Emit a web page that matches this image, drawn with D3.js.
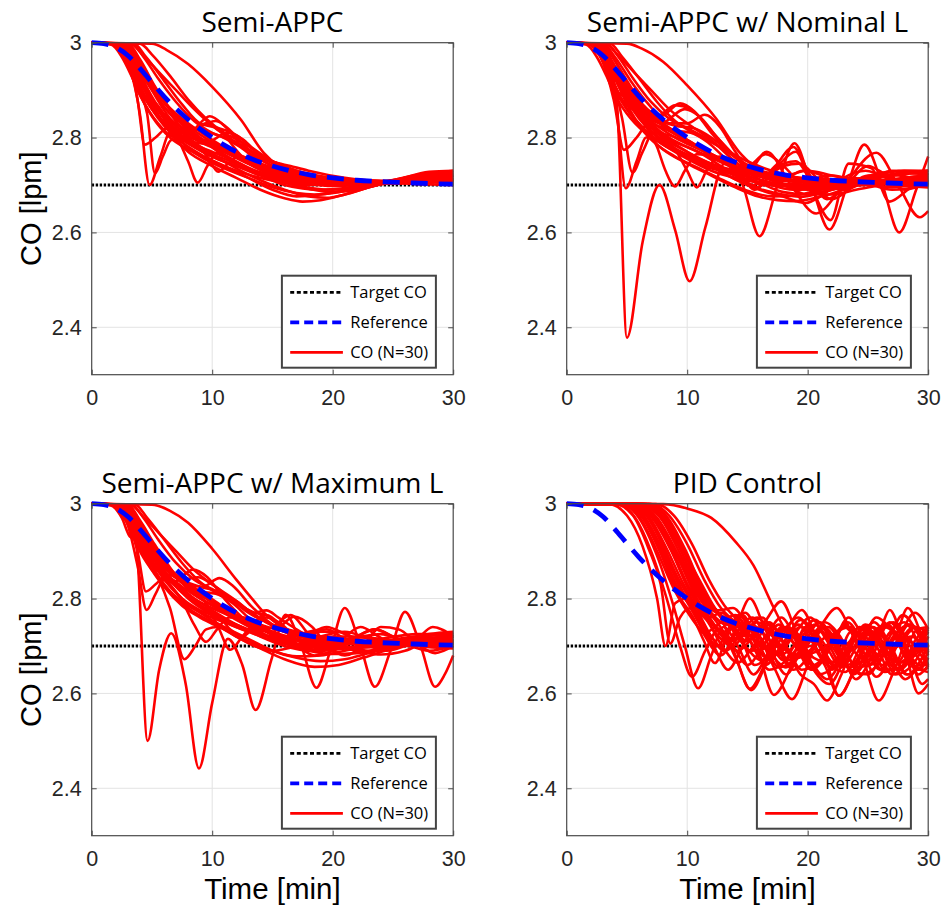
<!DOCTYPE html>
<html>
<head>
<meta charset="utf-8">
<script src="https://cdn.jsdelivr.net/npm/d3@7"></script>
<style>
  body { margin: 0; background: #fff; }
</style>
</head>
<body>
<div id="chart"></div>
<script>
const timeTicks = [0, 10, 20, 30];
const coTicks = [2.4, 2.6, 2.8, 3];
const coTickLabels = ["2.4", "2.6", "2.8", "3"];
const targetCO = 2.7;
const panelTitles = ["Semi-APPC", "Semi-APPC w/ Nominal L", "Semi-APPC w/ Maximum L", "PID Control"];
const legendLabels = ["Target CO", "Reference", "CO (N=30)"];

const refTimes = [0, 1, 2, 3, 4, 5, 6, 7, 8, 9, 10, 11, 12, 13, 14, 15, 16, 17, 18, 19, 20, 22, 24, 26, 28, 30];
const refValues = [3, 2.998, 2.99, 2.973, 2.946, 2.916, 2.887, 2.861, 2.838, 2.818, 2.80, 2.784, 2.77, 2.758, 2.748, 2.74, 2.733, 2.727, 2.722, 2.718, 2.715, 2.71, 2.707, 2.705, 2.703, 2.702];

// every run is a flat list: time, CO, time, CO, ...
const semiAppcRuns = [
  [0,3, 5,2.998, 6.2,2.985, 8,2.955, 10,2.907, 12.4,2.837, 14.3,2.767, 15.5,2.74, 17,2.725, 20,2.713, 24,2.708, 30,2.71],
  [0,3, 2,2.998, 3,2.97, 4,2.85, 4.8,2.70, 5.7,2.76, 6.5,2.81, 7.5,2.80, 9,2.78, 11,2.76, 13,2.735, 16,2.70, 19,2.69, 23,2.70, 27,2.71, 30,2.72],
  [0,3, 2,2.997, 3,2.96, 3.8,2.88, 4.4,2.785, 5.3,2.80, 6.3,2.82, 7.5,2.81, 9,2.79, 11,2.77, 13,2.745, 16,2.72, 20,2.705, 25,2.705, 30,2.715],
  [0,3, 2.2,2.998, 3.2,2.96, 4,2.9, 4.6,2.85, 5.25,2.725, 5.9,2.76, 6.6,2.795, 8,2.80, 10,2.785, 12,2.76, 14,2.735, 17,2.70, 20,2.69, 24,2.705, 30,2.72],
  [0,3, 2.5,2.995, 3.5,2.96, 4.5,2.9, 6,2.84, 7.3,2.79, 8,2.75, 8.8,2.705, 9.6,2.74, 10.5,2.77, 12,2.765, 14,2.745, 17,2.715, 20,2.70, 25,2.705, 30,2.72],
  [0,3, 2.3,2.997, 3.3,2.96, 4.5,2.9, 6.5,2.83, 8.5,2.79, 9.6,2.76, 10.5,2.728, 11.3,2.745, 12.2,2.76, 13.5,2.75, 16,2.72, 20,2.70, 25,2.707, 30,2.72],
  [0,3, 2,2.998, 3,2.97, 4,2.92, 5,2.87, 6.5,2.82, 8,2.81, 9.8,2.845, 11,2.825, 12.5,2.78, 14,2.745, 16,2.72, 20,2.705, 25,2.706, 30,2.712],
  [0,3, 2.5,2.998, 3.5,2.96, 5,2.9, 6.5,2.85, 8,2.815, 10.3,2.835, 11.5,2.815, 13,2.775, 15,2.74, 18,2.712, 22,2.705, 30,2.71],
  [0,3, 2.8,2.998, 3.8,2.96, 5,2.91, 6.5,2.86, 8.2,2.81, 9.5,2.79, 11.3,2.81, 12.6,2.795, 14,2.76, 15.5,2.745, 18,2.72, 22,2.708, 30,2.712],
  [0,3, 1.8,2.996, 2.8,2.96, 4,2.89, 5.5,2.83, 7,2.80, 8.3,2.81, 9.5,2.83, 10.8,2.81, 12.5,2.76, 14.5,2.735, 17,2.71, 21,2.70, 26,2.708, 30,2.72],
  [0,3, 2.5,2.997, 3.5,2.955, 5,2.87, 6.5,2.81, 8,2.77, 10,2.74, 12,2.715, 14,2.69, 16,2.672, 17.5,2.665, 19,2.668, 21,2.68, 23,2.695, 25,2.71, 28,2.725, 30,2.728],
  [0,3, 2.8,2.997, 3.8,2.96, 5,2.9, 6.5,2.84, 8,2.8, 10,2.765, 12,2.735, 14,2.71, 16,2.69, 18,2.676, 19.5,2.673, 21,2.68, 23,2.695, 25.5,2.712, 28,2.728, 30,2.73],
  [0,3, 2.2,2.998, 3.2,2.965, 4.5,2.9, 6,2.84, 7.5,2.79, 9,2.76, 11,2.735, 13,2.715, 15,2.695, 17,2.683, 18.5,2.68, 20.5,2.685, 23,2.7, 26,2.715, 30,2.725],
  [0,3, 3,2.998, 4,2.965, 5.2,2.91, 6.8,2.85, 8.5,2.805, 10,2.78, 12,2.75, 14,2.725, 16,2.705, 18,2.692, 20,2.685, 22,2.69, 24.5,2.705, 27,2.72, 30,2.73],
  [0,3, 2,2.998, 3,2.975, 4,2.94, 5,2.905, 6,2.875, 7,2.85, 8,2.83, 10,2.795, 12,2.765, 14,2.745, 16,2.73, 18,2.72, 21,2.712, 25,2.708, 30,2.705],
  [0,3, 1.8,2.997, 2.8,2.97, 3.8,2.92, 5,2.86, 6,2.83, 7,2.805, 8.5,2.78, 10,2.76, 12,2.74, 14,2.72, 16,2.71, 19,2.70, 23,2.703, 27,2.71, 30,2.715],
  [0,3, 3.2,2.998, 4.2,2.975, 5.5,2.94, 7,2.9, 8.5,2.86, 10,2.825, 12,2.79, 14,2.76, 15.5,2.745, 17,2.73, 20,2.715, 24,2.708, 30,2.708],
  [0,3, 3.5,2.998, 4.5,2.97, 6,2.92, 7.5,2.87, 9,2.83, 10.5,2.82, 12,2.805, 13.5,2.775, 15,2.75, 17,2.73, 20,2.712, 25,2.706, 30,2.712],
  [0,3, 1.6,2.996, 2.5,2.97, 3.3,2.93, 4,2.89, 5,2.845, 6.5,2.80, 8,2.775, 10,2.75, 12,2.73, 14,2.715, 16,2.705, 18,2.7, 22,2.7, 26,2.706, 30,2.718],
  [0,3, 2,2.997, 3,2.96, 3.8,2.9, 4.6,2.885, 5.4,2.87, 6.5,2.83, 8,2.79, 10,2.76, 12,2.74, 14,2.725, 17,2.71, 20,2.703, 25,2.705, 30,2.712],
  [0,3, 2.4,2.997, 3.4,2.965, 4.4,2.93, 5.5,2.89, 7,2.845, 8.5,2.815, 10,2.79, 12,2.76, 14,2.74, 17,2.72, 21,2.708, 25,2.706, 30,2.71],
  [0,3, 2.6,2.998, 3.6,2.97, 4.8,2.915, 6,2.865, 7.5,2.83, 9,2.8, 10.5,2.77, 12,2.745, 14,2.725, 16,2.712, 18,2.705, 22,2.703, 26,2.707, 30,2.716],
  [0,3, 2.2,2.997, 3.2,2.96, 4.3,2.91, 5.5,2.86, 7,2.815, 8.5,2.79, 10,2.785, 11.5,2.775, 13,2.75, 15,2.725, 17.5,2.705, 20,2.7, 23,2.703, 26,2.712, 30,2.722],
  [0,3, 4,2.998, 5,2.975, 6.5,2.93, 8,2.88, 9.5,2.84, 11,2.81, 12.5,2.79, 14,2.765, 15,2.75, 16.5,2.74, 18,2.73, 21,2.715, 25,2.707, 30,2.71],
  [0,3, 3,2.996, 4,2.96, 5,2.915, 6.2,2.87, 7.5,2.835, 9,2.815, 10.5,2.805, 12,2.785, 13.5,2.76, 15,2.74, 17,2.722, 20,2.71, 24,2.705, 30,2.70],
  [0,3, 2,2.996, 3,2.965, 4,2.91, 5,2.86, 6,2.825, 7.5,2.79, 9,2.765, 11,2.74, 13,2.715, 15,2.69, 17,2.676, 19,2.68, 22,2.695, 25,2.71, 28,2.722, 30,2.725],
  [0,3, 2.6,2.997, 3.6,2.96, 4.6,2.905, 5.8,2.855, 7.2,2.82, 8.7,2.80, 10,2.79, 11.5,2.77, 13,2.745, 15,2.72, 17.5,2.706, 20,2.698, 24,2.702, 27,2.712, 30,2.725],
  [0,3, 2.1,2.996, 3.1,2.955, 4,2.9, 5,2.86, 6.5,2.82, 8,2.79, 9.5,2.77, 11,2.755, 13,2.735, 15,2.72, 17,2.71, 20,2.702, 25,2.703, 30,2.71],
  [0,3, 3.3,2.998, 4.3,2.97, 5.5,2.925, 7,2.875, 8.5,2.835, 10,2.81, 11.5,2.795, 13,2.775, 14.5,2.752, 16,2.735, 18,2.72, 21,2.71, 25,2.706, 30,2.715],
  [0,3, 2.4,2.996, 3.4,2.95, 4.3,2.89, 5.2,2.865, 6.2,2.845, 7.5,2.82, 9,2.795, 11,2.77, 13,2.745, 15,2.728, 18,2.712, 22,2.705, 26,2.708, 30,2.72]
];

const nominalLRuns = [
  [0,3, 2.6,2.998, 3.5,2.96, 4.2,2.86, 5,2.378, 6.3,2.58, 7.7,2.70, 9,2.605, 10.2,2.497, 11.5,2.61, 13.1,2.745, 14.6,2.70, 16,2.592, 17.5,2.70, 18.9,2.788, 20.3,2.70, 21.8,2.606, 23.3,2.70, 24.7,2.785, 26.2,2.70, 27.6,2.60, 29,2.69, 30,2.76],
  [0,3, 2.4,2.997, 3.4,2.96, 4.5,2.9, 6,2.84, 7.5,2.80, 9,2.775, 11,2.755, 13,2.735, 14.8,2.72, 16.6,2.77, 18.6,2.70, 20.7,2.64, 23,2.70, 25.7,2.768, 27.5,2.70, 29.3,2.632, 30,2.645],
  [0,3, 2.2,2.997, 3.2,2.965, 4.3,2.91, 5.5,2.86, 7,2.815, 8.5,2.785, 10,2.76, 12,2.735, 14,2.725, 15.8,2.695, 17.5,2.74, 19,2.77, 20.4,2.69, 21.9,2.626, 23.4,2.745, 25.3,2.735, 26.8,2.665, 28.3,2.69, 30,2.725],
  [0,3, 2.2,2.997, 3.2,2.96, 4.1,2.87, 4.9,2.693, 5.8,2.75, 6.6,2.80, 8,2.79, 9.5,2.77, 11.2,2.75, 13,2.725, 15,2.70, 17,2.685, 19.5,2.675, 22,2.69, 25,2.705, 30,2.72],
  [0,3, 2.5,2.997, 3.5,2.95, 4.6,2.84, 5.46,2.726, 6.3,2.77, 7.2,2.81, 8.5,2.805, 10,2.79, 12,2.765, 14,2.74, 16,2.72, 18,2.71, 20,2.705, 22.5,2.71, 25,2.702, 27,2.69, 30,2.70],
  [0,3, 2,2.997, 3,2.96, 3.9,2.88, 4.75,2.774, 5.8,2.80, 6.8,2.83, 8,2.82, 9.5,2.80, 11,2.78, 13,2.75, 15,2.72, 17,2.705, 20,2.698, 23,2.702, 26,2.71, 30,2.714],
  [0,3, 2.6,2.997, 3.6,2.96, 4.8,2.9, 6.2,2.84, 7.5,2.78, 8.2,2.73, 9,2.697, 9.8,2.73, 10.8,2.765, 12.3,2.76, 14,2.73, 16,2.705, 18,2.685, 20,2.68, 22,2.69, 24,2.71, 26,2.725, 28,2.73, 30,2.728],
  [0,3, 2.4,2.997, 3.4,2.96, 4.5,2.905, 6,2.85, 7.5,2.81, 9,2.775, 10,2.73, 10.8,2.695, 11.7,2.735, 12.7,2.76, 14,2.74, 15.6,2.69, 17.3,2.735, 19,2.75, 20.5,2.70, 22,2.67, 24,2.70, 26,2.72, 28,2.705, 30,2.70],
  [0,3, 2.8,2.998, 3.8,2.97, 5,2.92, 6.3,2.87, 7.8,2.845, 9.4,2.872, 10.6,2.855, 12,2.81, 13.5,2.77, 15,2.735, 17,2.71, 19,2.70, 21,2.705, 23,2.715, 26,2.71, 30,2.705],
  [0,3, 2.5,2.998, 3.5,2.965, 4.8,2.91, 6.2,2.86, 7.8,2.83, 9.8,2.86, 11,2.845, 12.5,2.8, 14,2.76, 15.5,2.72, 17,2.70, 19,2.69, 21,2.695, 23.5,2.71, 27,2.722, 30,2.725],
  [0,3, 3,2.998, 4,2.97, 5.3,2.92, 6.8,2.87, 8.5,2.83, 10,2.83, 11.45,2.848, 12.8,2.82, 14,2.77, 15,2.74, 16.5,2.765, 18,2.74, 19.5,2.70, 21,2.685, 23,2.70, 25.5,2.72, 28,2.73, 30,2.73],
  [0,3, 5,2.998, 6.2,2.988, 8,2.96, 10,2.91, 12.4,2.84, 14.3,2.77, 15.5,2.74, 16.8,2.715, 18,2.70, 20,2.69, 22,2.695, 25,2.707, 30,2.712],
  [0,3, 2.3,2.997, 3.3,2.96, 4.5,2.9, 6,2.845, 7.5,2.81, 9,2.79, 10.5,2.775, 12.2,2.75, 14,2.72, 15.5,2.70, 17.3,2.74, 18.8,2.78, 20.2,2.72, 21.6,2.67, 23.2,2.70, 25,2.74, 26.6,2.72, 28.5,2.70, 30,2.71],
  [0,3, 2.5,2.997, 3.5,2.955, 5,2.87, 6.5,2.81, 8,2.775, 10,2.745, 12,2.72, 14,2.695, 16,2.675, 17.5,2.668, 19,2.666, 21,2.675, 23,2.69, 25,2.71, 27.5,2.725, 30,2.73],
  [0,3, 2.8,2.997, 3.8,2.96, 5,2.9, 6.5,2.845, 8,2.805, 10,2.77, 12,2.74, 14,2.712, 16,2.69, 18,2.675, 19.8,2.662, 21.3,2.68, 23,2.715, 24.8,2.73, 26.5,2.715, 28,2.69, 30,2.705],
  [0,3, 2,2.998, 3,2.975, 4,2.94, 5,2.905, 6,2.875, 7,2.85, 8,2.83, 10,2.795, 12,2.765, 14,2.745, 16,2.73, 18,2.72, 21,2.712, 25,2.708, 30,2.706],
  [0,3, 1.8,2.997, 2.8,2.97, 3.8,2.92, 5,2.86, 6,2.83, 7,2.805, 8.5,2.78, 10,2.76, 12,2.74, 14,2.72, 16,2.705, 18,2.70, 20,2.71, 22,2.72, 24.5,2.705, 27,2.695, 30,2.71],
  [0,3, 3.2,2.998, 4.2,2.975, 5.5,2.94, 7,2.9, 8.5,2.86, 10,2.83, 12,2.795, 13.5,2.76, 15,2.73, 16.5,2.72, 18,2.74, 19.3,2.745, 21,2.71, 23,2.69, 25,2.71, 27,2.73, 30,2.72],
  [0,3, 1.6,2.996, 2.5,2.97, 3.3,2.93, 4,2.89, 5,2.85, 6.5,2.81, 8,2.785, 10,2.755, 12,2.73, 14,2.715, 16,2.705, 18,2.70, 22,2.70, 26,2.706, 30,2.718],
  [0,3, 2,2.997, 3,2.96, 3.8,2.905, 4.6,2.89, 5.4,2.875, 6.5,2.84, 8,2.80, 10,2.77, 12,2.745, 14,2.73, 16,2.718, 19,2.708, 23,2.705, 27,2.71, 30,2.716],
  [0,3, 2.6,2.998, 3.6,2.965, 4.8,2.905, 6,2.86, 7.5,2.845, 9,2.868, 10.3,2.86, 11.8,2.82, 13.2,2.78, 14.6,2.745, 16,2.725, 18,2.72, 20,2.73, 22,2.72, 25,2.705, 30,2.71],
  [0,3, 2.3,2.997, 3.3,2.962, 4.4,2.915, 5.6,2.87, 7,2.83, 8.5,2.80, 10,2.78, 11.8,2.76, 13.5,2.74, 15,2.725, 17,2.712, 20,2.705, 24,2.703, 30,2.708],
  [0,3, 3.6,2.998, 4.6,2.97, 6,2.925, 7.5,2.875, 9,2.835, 10.5,2.81, 12,2.79, 13.5,2.77, 15,2.75, 17,2.73, 20,2.712, 25,2.707, 30,2.71],
  [0,3, 2.4,2.996, 3.4,2.95, 4.3,2.89, 5.2,2.865, 6.2,2.85, 7.5,2.825, 9,2.8, 11,2.775, 13,2.75, 15,2.73, 17,2.72, 19,2.715, 21,2.69, 23,2.695, 25,2.72, 27.5,2.72, 30,2.70],
  [0,3, 2.1,2.996, 3.1,2.955, 4,2.9, 5,2.86, 6.5,2.815, 8,2.785, 9.5,2.765, 11,2.75, 13,2.73, 15,2.712, 17,2.70, 20,2.695, 25,2.70, 30,2.712],
  [0,3, 3,2.996, 4,2.962, 5,2.915, 6.2,2.87, 7.5,2.84, 9,2.825, 10.5,2.82, 12,2.80, 13.5,2.77, 15,2.74, 16.7,2.72, 18.5,2.71, 21,2.713, 24,2.708, 27,2.70, 30,2.695],
  [0,3, 2,2.996, 3,2.965, 4,2.91, 5,2.86, 6,2.825, 7.5,2.785, 9,2.76, 11,2.735, 13,2.71, 15,2.688, 17,2.676, 19,2.678, 21,2.69, 24,2.705, 27,2.72, 30,2.73],
  [0,3, 2.7,2.997, 3.7,2.96, 4.8,2.91, 6,2.87, 7.5,2.835, 9,2.815, 10.3,2.81, 11.7,2.79, 13.2,2.755, 14.8,2.72, 16.3,2.70, 18,2.71, 19.6,2.73, 21.2,2.72, 23,2.70, 25,2.705, 30,2.715],
  [0,3, 3.3,2.998, 4.3,2.97, 5.5,2.925, 7,2.875, 8.5,2.84, 10,2.82, 11.5,2.80, 13,2.775, 14.5,2.75, 16,2.73, 18,2.715, 21,2.705, 25,2.704, 30,2.705],
  [0,3, 2.4,2.997, 3.4,2.965, 4.4,2.93, 5.5,2.89, 7,2.845, 8.5,2.815, 10,2.795, 12,2.765, 14,2.74, 16,2.72, 18,2.70, 20,2.68, 22,2.68, 24,2.69, 26,2.70, 28,2.715, 30,2.72]
];

const maximumLRuns = [
  [0,3, 2.2,2.997, 3,2.97, 3.7,2.918, 4.64,2.50, 5.6,2.65, 6.6,2.727, 7.8,2.62, 8.9,2.442, 10,2.58, 11.3,2.715, 12.5,2.66, 13.6,2.565, 14.9,2.67, 16.1,2.766, 17.4,2.70, 18.65,2.612, 19.8,2.69, 21,2.78, 22.3,2.70, 23.5,2.614, 24.8,2.69, 26,2.772, 27.3,2.70, 28.5,2.614, 29.3,2.64, 30,2.68],
  [0,3, 2,2.997, 3,2.955, 3.8,2.87, 4.56,2.776, 5.3,2.81, 6,2.84, 7,2.83, 8.5,2.80, 10,2.775, 12,2.745, 14,2.72, 16,2.70, 18,2.69, 20,2.695, 23,2.70, 26,2.71, 30,2.72],
  [0,3, 2.2,2.997, 3.1,2.955, 3.8,2.90, 4.5,2.815, 5.3,2.83, 6.3,2.85, 7.5,2.84, 9,2.815, 10.5,2.79, 12,2.76, 14,2.735, 16.5,2.72, 18,2.73, 19.5,2.735, 21,2.715, 23,2.70, 25,2.71, 27,2.72, 30,2.71],
  [0,3, 2.4,2.997, 3.3,2.96, 4.3,2.9, 5.5,2.845, 6.5,2.78, 7.7,2.672, 8.6,2.70, 9.5,2.735, 10.5,2.74, 12,2.72, 13.5,2.70, 15,2.69, 17,2.70, 19,2.72, 21,2.73, 23,2.715, 25,2.70, 27,2.705, 30,2.72],
  [0,3, 2.6,2.997, 3.6,2.96, 4.8,2.9, 6.2,2.84, 7.5,2.795, 8.5,2.745, 9.5,2.709, 10.4,2.735, 11.4,2.76, 12.6,2.76, 14,2.745, 15.5,2.72, 17,2.705, 19,2.70, 21.5,2.705, 24,2.715, 27,2.725, 30,2.725],
  [0,3, 2.8,2.998, 3.8,2.965, 5,2.91, 6.5,2.86, 8,2.82, 9.5,2.79, 10.5,2.74, 11.5,2.692, 12.5,2.72, 13.5,2.75, 14.5,2.765, 15.8,2.74, 17,2.705, 18.5,2.68, 20,2.69, 22,2.72, 23.5,2.735, 25,2.72, 26.5,2.70, 28,2.69, 30,2.70],
  [0,3, 2.2,2.997, 3.2,2.96, 4.3,2.91, 5.5,2.86, 6.8,2.835, 8.4,2.861, 9.6,2.845, 11,2.80, 12.5,2.76, 14,2.73, 15.5,2.71, 17,2.70, 19,2.69, 21,2.695, 24,2.71, 27,2.72, 30,2.725],
  [0,3, 2.6,2.998, 3.6,2.965, 4.8,2.915, 6.2,2.865, 7.8,2.83, 9.2,2.825, 10.6,2.843, 11.8,2.825, 13.2,2.785, 14.5,2.755, 16,2.73, 17.5,2.72, 19,2.73, 20.5,2.73, 22,2.715, 24,2.70, 26,2.70, 28,2.71, 30,2.72],
  [0,3, 5,2.998, 6.5,2.985, 8,2.96, 10,2.905, 12,2.84, 13.3,2.80, 14.5,2.765, 15.5,2.745, 17,2.725, 19,2.715, 22,2.71, 26,2.708, 30,2.71],
  [0,3, 2.4,2.997, 3.4,2.96, 4.5,2.9, 6,2.84, 7.5,2.80, 9,2.775, 10.5,2.76, 12,2.745, 13.5,2.73, 15,2.74, 16.5,2.765, 18,2.725, 19.3,2.695, 20.8,2.715, 22.3,2.74, 23.8,2.72, 25.2,2.70, 26.8,2.71, 28.3,2.74, 30,2.72],
  [0,3, 2.8,2.998, 3.8,2.965, 5,2.915, 6.4,2.865, 8,2.825, 9.5,2.80, 11,2.775, 12.5,2.76, 14,2.745, 15,2.73, 16.8,2.762, 18.3,2.74, 19.6,2.70, 21,2.68, 22.5,2.70, 24,2.74, 25.5,2.735, 27,2.705, 28.5,2.685, 30,2.70],
  [0,3, 2.5,2.997, 3.5,2.955, 5,2.87, 6.5,2.815, 8,2.78, 10,2.75, 12,2.72, 14,2.695, 16,2.672, 18.5,2.656, 20.5,2.66, 22.5,2.675, 25,2.695, 27.5,2.712, 30,2.725],
  [0,3, 2.2,2.998, 3.2,2.965, 4.5,2.9, 6,2.845, 7.5,2.80, 9,2.77, 11,2.74, 13,2.715, 15,2.69, 17,2.675, 19,2.668, 21,2.672, 23,2.685, 25.5,2.70, 28,2.712, 30,2.72],
  [0,3, 3,2.998, 4,2.965, 5.2,2.915, 6.8,2.855, 8.5,2.81, 10,2.785, 12,2.755, 14,2.728, 16,2.705, 18,2.69, 20,2.683, 22,2.685, 24.5,2.698, 27,2.71, 30,2.72],
  [0,3, 2,2.998, 3,2.975, 4,2.94, 5,2.905, 6,2.875, 7,2.85, 8,2.83, 10,2.795, 12,2.765, 14,2.745, 16,2.73, 18,2.72, 21,2.712, 25,2.708, 30,2.706],
  [0,3, 1.8,2.997, 2.8,2.965, 3.6,2.93, 4.3,2.925, 5,2.9, 6,2.86, 7,2.83, 8.5,2.795, 10,2.77, 12,2.745, 14,2.725, 16,2.71, 18,2.70, 20,2.705, 22.5,2.72, 24,2.725, 26,2.71, 28,2.70, 30,2.705],
  [0,3, 3.2,2.998, 4.2,2.975, 5.5,2.94, 7,2.9, 8.5,2.86, 10,2.83, 12,2.795, 13.5,2.765, 15,2.745, 17,2.73, 20,2.715, 24,2.708, 30,2.708],
  [0,3, 1.6,2.996, 2.5,2.97, 3.2,2.93, 3.8,2.925, 4.5,2.905, 5.5,2.87, 6.8,2.83, 8.2,2.80, 10,2.77, 12,2.745, 14,2.725, 16,2.71, 18,2.70, 21,2.697, 25,2.70, 30,2.71],
  [0,3, 2,2.997, 3,2.96, 3.8,2.93, 4.6,2.915, 5.4,2.88, 6.5,2.84, 8,2.80, 10,2.765, 12,2.74, 14,2.725, 16,2.715, 19,2.708, 23,2.705, 27,2.71, 30,2.716],
  [0,3, 2.6,2.998, 3.6,2.965, 4.8,2.91, 6,2.865, 7.5,2.84, 8.8,2.845, 10,2.83, 11.5,2.80, 13,2.77, 14.5,2.75, 16,2.735, 18,2.725, 20,2.715, 23,2.71, 26,2.705, 30,2.70],
  [0,3, 2.3,2.997, 3.3,2.962, 4.4,2.915, 5.6,2.87, 7,2.83, 8.5,2.80, 10,2.78, 11.8,2.76, 13.5,2.74, 15,2.725, 17,2.712, 20,2.705, 24,2.703, 30,2.708],
  [0,3, 3.6,2.998, 4.6,2.97, 6,2.925, 7.5,2.875, 9,2.835, 10.5,2.81, 12,2.79, 13.5,2.77, 14.5,2.765, 15.5,2.745, 17,2.725, 18.5,2.715, 20,2.72, 22,2.72, 25,2.71, 30,2.71],
  [0,3, 2.4,2.996, 3.4,2.95, 4.3,2.895, 5.2,2.865, 6.2,2.85, 7.5,2.825, 9,2.80, 11,2.775, 13,2.75, 15,2.73, 17,2.715, 19,2.71, 21,2.70, 23,2.69, 25,2.70, 27.5,2.715, 30,2.72],
  [0,3, 2.1,2.996, 3.1,2.955, 4,2.9, 5,2.86, 6.5,2.815, 8,2.785, 9.5,2.765, 11,2.75, 13,2.73, 15,2.712, 17,2.70, 20,2.695, 25,2.70, 30,2.712],
  [0,3, 3,2.996, 4,2.962, 5,2.915, 6.2,2.87, 7.5,2.84, 9,2.825, 10.5,2.815, 12,2.795, 13.5,2.77, 14.5,2.775, 15.5,2.76, 17,2.735, 18.5,2.715, 20,2.71, 22,2.718, 24,2.715, 27,2.70, 30,2.695],
  [0,3, 2,2.996, 3,2.965, 4,2.91, 5,2.86, 6,2.825, 7.5,2.785, 9,2.76, 11,2.735, 13,2.71, 15,2.69, 17,2.678, 19,2.68, 21,2.69, 24,2.705, 27,2.718, 30,2.728],
  [0,3, 2.7,2.997, 3.7,2.96, 4.8,2.91, 6,2.87, 7.5,2.835, 9,2.815, 10.3,2.81, 11.7,2.79, 13.2,2.755, 14.8,2.725, 16.3,2.71, 18,2.725, 19.5,2.74, 21,2.725, 23,2.70, 24.5,2.69, 26,2.70, 28,2.725, 30,2.73],
  [0,3, 3.3,2.998, 4.3,2.97, 5.5,2.925, 7,2.875, 8.5,2.84, 10,2.82, 11.5,2.80, 13,2.775, 14.5,2.75, 16,2.73, 18,2.715, 21,2.705, 25,2.704, 30,2.705],
  [0,3, 2.4,2.997, 3.4,2.965, 4.4,2.93, 5.5,2.89, 7,2.845, 8.5,2.815, 10,2.795, 12,2.765, 14,2.74, 16,2.72, 18,2.705, 20,2.70, 22,2.69, 24,2.682, 26,2.69, 28,2.71, 30,2.715],
  [0,3, 2.5,2.997, 3.5,2.96, 4.7,2.905, 6,2.855, 7.5,2.815, 9,2.785, 10.5,2.765, 11.5,2.735, 12.5,2.72, 13.5,2.74, 14.5,2.76, 15.8,2.745, 17,2.715, 18.8,2.69, 20.5,2.70, 22,2.72, 23.5,2.735, 25,2.72, 26.5,2.70, 28,2.70, 30,2.715]
];

const pidRuns = [
  [0,3, 3.5,2.999, 5,2.975, 6.3,2.91, 7.5,2.80, 8.2,2.70, 9,2.79, 10,2.80, 11.2,2.74, 12.5,2.70, 13.8,2.745, 15.2,2.71, 16.5,2.66, 17.8,2.70, 19.2,2.745, 20.6,2.70, 22,2.655, 23.4,2.70, 24.8,2.74, 26.2,2.70, 27.6,2.65, 29,2.69, 30,2.73],
  [0,3, 4,2.999, 5.5,2.975, 6.8,2.905, 7.8,2.83, 8.6,2.705, 9.4,2.76, 10.3,2.78, 11.5,2.72, 12.8,2.68, 14.1,2.73, 15.4,2.76, 16.8,2.70, 18.2,2.64, 19.6,2.70, 21,2.75, 22.4,2.70, 23.8,2.645, 25.2,2.70, 26.6,2.745, 28,2.70, 29.3,2.66, 30,2.675],
  [0,3, 4.5,2.999, 6,2.97, 7.5,2.89, 8.8,2.79, 9.8,2.70, 10.9,2.611, 12,2.68, 13,2.74, 14.2,2.70, 15.5,2.64, 16.8,2.69, 18,2.74, 19.3,2.70, 20.6,2.655, 22,2.70, 23.3,2.75, 24.7,2.70, 26,2.65, 27.4,2.70, 28.8,2.74, 30,2.70],
  [0,3, 4.2,2.999, 5.7,2.97, 7,2.90, 8.3,2.80, 9.4,2.70, 10.4,2.635, 11.5,2.69, 12.6,2.735, 13.8,2.70, 15,2.66, 16.3,2.70, 17.6,2.745, 19,2.70, 20.3,2.65, 21.6,2.69, 23,2.74, 24.4,2.70, 25.7,2.635, 27,2.68, 28.4,2.745, 29.6,2.72, 30,2.70],
  [0,3, 5.5,2.999, 7,2.975, 8.5,2.92, 10,2.85, 11.5,2.79, 12.8,2.76, 14,2.68, 15.3,2.607, 16.5,2.66, 17.8,2.74, 19.2,2.72, 20.5,2.65, 21.8,2.62, 23.2,2.68, 24.6,2.735, 26,2.70, 27.3,2.64, 28.7,2.66, 30,2.72],
  [0,3, 5,2.999, 6.5,2.97, 8,2.90, 9.5,2.82, 11,2.76, 12.2,2.70, 13.4,2.65, 14.6,2.70, 15.8,2.75, 17.1,2.72, 18.4,2.66, 19.8,2.695, 21.1,2.74, 22.5,2.70, 23.8,2.64, 25.2,2.685, 26.5,2.74, 27.9,2.71, 29.2,2.64, 30,2.66],
  [0,3, 4.8,2.999, 6.3,2.97, 7.8,2.895, 9.2,2.81, 10.5,2.76, 11.4,2.71, 12.3,2.664, 13.3,2.72, 14.3,2.765, 15.5,2.73, 16.8,2.67, 18.1,2.71, 19.4,2.755, 20.8,2.72, 22.1,2.665, 23.5,2.70, 24.8,2.745, 26.2,2.72, 27.6,2.665, 29,2.70, 30,2.735],
  [0,3, 8,2.999, 10,2.99, 12,2.97, 14,2.92, 15.5,2.87, 17,2.79, 18,2.74, 19,2.70, 20.2,2.685, 21.5,2.70, 23,2.74, 24.5,2.72, 26,2.68, 27.5,2.70, 29,2.74, 30,2.725],
  [0,3, 6,2.999, 7.5,2.97, 9,2.905, 10.5,2.83, 12,2.77, 13.3,2.745, 14.6,2.765, 15.8,2.70, 17.2,2.597, 18.5,2.65, 19.8,2.74, 21.2,2.70, 22.6,2.595, 24,2.66, 25.4,2.74, 26.8,2.70, 28.2,2.64, 29.5,2.66, 30,2.69],
  [0,3, 6.5,2.999, 8,2.97, 9.5,2.91, 11,2.84, 12.3,2.78, 13.6,2.74, 15,2.72, 16.4,2.75, 17.8,2.794, 19.2,2.72, 20.6,2.66, 22,2.70, 23.4,2.76, 24.8,2.71, 26.2,2.66, 27.6,2.72, 28.9,2.77, 30,2.735],
  [0,3, 6.2,2.999, 7.8,2.97, 9.3,2.91, 10.8,2.83, 12.2,2.78, 13.6,2.75, 14.8,2.77, 16,2.72, 17.3,2.65, 18.7,2.588, 20,2.66, 21.3,2.74, 22.6,2.70, 24,2.63, 25.4,2.68, 26.8,2.75, 28.2,2.70, 29.5,2.62, 30,2.63],
  [0,3, 5.8,2.999, 7.3,2.97, 8.8,2.90, 10.2,2.82, 11.6,2.77, 12.9,2.72, 14.2,2.69, 15.5,2.72, 16.8,2.75, 18.1,2.70, 19.4,2.64, 20.5,2.62, 21.6,2.585, 22.8,2.64, 24.1,2.72, 25.5,2.73, 26.8,2.68, 28.1,2.63, 29.4,2.67, 30,2.70],
  [0,3, 5.3,2.999, 6.8,2.97, 8.2,2.90, 9.5,2.82, 10.8,2.765, 12,2.72, 13.2,2.69, 14.5,2.73, 15.8,2.76, 17.1,2.72, 18.4,2.67, 19.7,2.70, 21,2.74, 22.4,2.78, 23.8,2.72, 25.2,2.66, 26.6,2.71, 27.9,2.765, 29.3,2.72, 30,2.69],
  [0,3, 6.8,2.999, 8.3,2.97, 9.8,2.90, 11.2,2.82, 12.6,2.77, 13.9,2.74, 15.2,2.69, 16.5,2.72, 17.8,2.76, 19.1,2.71, 20.4,2.65, 21.7,2.69, 23.1,2.745, 24.5,2.68, 25.9,2.585, 27.2,2.65, 28.5,2.72, 29.6,2.70, 30,2.68],
  [0,3, 5.6,2.999, 7.1,2.97, 8.6,2.905, 10,2.83, 11.3,2.775, 12.6,2.73, 13.9,2.71, 15.2,2.745, 16.6,2.72, 18,2.67, 19.3,2.70, 20.6,2.745, 22,2.70, 23.4,2.655, 24.8,2.70, 26.1,2.74, 26.8,2.776, 28,2.70, 29.2,2.60, 30,2.62],
  [0,3, 6.4,2.999, 7.9,2.97, 9.4,2.905, 10.8,2.825, 12.1,2.78, 13.4,2.745, 14.8,2.70, 16.1,2.67, 17.4,2.70, 18.5,2.745, 19.5,2.776, 20.7,2.72, 22,2.65, 23.3,2.69, 24.7,2.74, 26,2.70, 27.4,2.65, 28.7,2.69, 30,2.74],
  [0,3, 5.2,2.999, 6.7,2.975, 8.1,2.905, 9.3,2.83, 10.5,2.77, 11.6,2.73, 12.8,2.75, 14,2.765, 15.3,2.72, 16.6,2.675, 18,2.70, 19.4,2.74, 20.8,2.71, 22.2,2.66, 23.6,2.69, 25,2.735, 26.4,2.70, 27.3,2.72, 28.3,2.78, 29.5,2.72, 30,2.69],
  [0,3, 5,2.999, 6.4,2.975, 7.7,2.91, 8.8,2.84, 9.8,2.80, 10.9,2.77, 12,2.72, 13.1,2.69, 14.2,2.75, 15.2,2.80, 16.4,2.74, 17.6,2.68, 18.9,2.70, 20.2,2.735, 21.5,2.70, 22.8,2.655, 24.1,2.70, 25.5,2.75, 26.9,2.70, 28.3,2.64, 29.6,2.68, 30,2.70],
  [0,3, 5.9,2.999, 7.4,2.97, 8.9,2.905, 10.3,2.83, 11.7,2.775, 13,2.73, 14.1,2.67, 15.2,2.61, 16.4,2.66, 17.6,2.735, 18.9,2.72, 20.2,2.67, 21.6,2.63, 23,2.68, 24.3,2.74, 25.7,2.70, 27,2.64, 28.4,2.67, 29.7,2.73, 30,2.735],
  [0,3, 6.6,2.999, 8.1,2.97, 9.6,2.905, 11,2.825, 12.4,2.775, 13.7,2.74, 15,2.71, 16.3,2.74, 17.6,2.72, 18.9,2.68, 20.2,2.70, 21.4,2.66, 22.6,2.595, 23.9,2.65, 25.2,2.72, 26.5,2.745, 27.9,2.69, 29.2,2.65, 30,2.675],
  [0,3, 5.4,2.999, 6.9,2.97, 8.3,2.905, 9.7,2.83, 11,2.775, 12.4,2.74, 13.7,2.715, 15,2.73, 16.4,2.74, 17.8,2.70, 19.2,2.675, 20.6,2.70, 22,2.725, 23.4,2.70, 24.8,2.67, 26.2,2.69, 27.6,2.72, 29,2.70, 30,2.685],
  [0,3, 6,2.999, 7.6,2.965, 9.1,2.895, 10.5,2.815, 11.8,2.76, 13,2.73, 14.3,2.75, 15.6,2.73, 16.9,2.685, 18.2,2.655, 19.6,2.69, 21,2.73, 22.3,2.70, 23.6,2.65, 25,2.64, 26.3,2.685, 27.6,2.73, 28.9,2.70, 30,2.655],
  [0,3, 4.6,2.999, 6.1,2.97, 7.5,2.90, 8.9,2.82, 10.2,2.765, 11.4,2.725, 12.6,2.70, 13.8,2.72, 15,2.745, 16.3,2.71, 17.6,2.655, 19,2.675, 20.3,2.72, 21.7,2.74, 23,2.695, 24.4,2.64, 25.8,2.66, 27.1,2.72, 28.5,2.745, 29.8,2.70, 30,2.695],
  [0,3, 7,2.999, 8.5,2.975, 10,2.915, 11.4,2.84, 12.8,2.78, 14,2.75, 15.3,2.72, 16.6,2.695, 17.9,2.73, 19.2,2.76, 20.5,2.72, 21.8,2.665, 23.1,2.645, 24.4,2.70, 25.7,2.76, 27,2.73, 28.4,2.665, 29.7,2.65, 30,2.655],
  [0,3, 5.7,2.999, 7.2,2.97, 8.7,2.90, 10.1,2.82, 11.4,2.765, 12.6,2.72, 13.8,2.70, 15,2.735, 16.2,2.76, 17.5,2.71, 18.8,2.65, 20.1,2.68, 21.4,2.75, 22.7,2.72, 24,2.655, 25.4,2.665, 26.7,2.725, 28,2.75, 29.3,2.70, 30,2.66],
  [0,3, 6.3,2.999, 7.8,2.97, 9.2,2.905, 10.6,2.83, 11.9,2.78, 13.1,2.76, 14.4,2.72, 15.6,2.66, 16.9,2.685, 18.2,2.74, 19.5,2.715, 20.9,2.64, 22.3,2.66, 23.6,2.73, 25,2.715, 26.4,2.65, 27.7,2.655, 29,2.715, 30,2.74],
  [0,3, 4.9,2.999, 6.4,2.97, 7.8,2.905, 9.1,2.83, 10.4,2.78, 11.6,2.755, 12.9,2.70, 14.2,2.665, 15.5,2.70, 16.8,2.745, 18.2,2.70, 19.5,2.65, 20.9,2.665, 22.2,2.725, 23.6,2.74, 25,2.69, 26.4,2.645, 27.7,2.67, 29.1,2.735, 30,2.74],
  [0,3, 7.4,2.999, 8.9,2.975, 10.4,2.915, 11.8,2.84, 13.1,2.785, 14.3,2.75, 15.5,2.70, 16.8,2.65, 18,2.665, 19.3,2.72, 20.6,2.755, 22,2.71, 23.4,2.655, 24.8,2.675, 26.2,2.74, 27.6,2.72, 29,2.655, 30,2.645],
  [0,3, 5.1,2.999, 6.6,2.975, 8,2.91, 9.3,2.84, 10.5,2.79, 11.7,2.76, 12.9,2.77, 14,2.73, 15.2,2.69, 16.5,2.695, 17.8,2.735, 19.1,2.72, 20.5,2.675, 21.9,2.665, 23.3,2.705, 24.7,2.735, 26.1,2.70, 27.5,2.665, 28.9,2.68, 30,2.72],
  [0,3, 6.9,2.999, 8.4,2.97, 9.9,2.90, 11.3,2.82, 12.6,2.775, 13.8,2.78, 15,2.745, 16.3,2.70, 17.6,2.685, 18.9,2.725, 20.2,2.76, 21.5,2.715, 22.9,2.66, 24.3,2.665, 25.7,2.72, 27.1,2.75, 28.5,2.70, 29.8,2.66, 30,2.66]
];

const width = 945, height = 907;
const plotW = 361.5, plotH = 332;

const panels = [
  { title: panelTitles[0], runs: semiAppcRuns, left: 91.7, top: 42.7, yLabel: true, xLabel: false },
  { title: panelTitles[1], runs: nominalLRuns, left: 566.7, top: 42.7, yLabel: false, xLabel: false },
  { title: panelTitles[2], runs: maximumLRuns, left: 91.7, top: 503.7, yLabel: true, xLabel: true },
  { title: panelTitles[3], runs: pidRuns, left: 566.7, top: 503.7, yLabel: false, xLabel: true }
];

const svg = d3.select("#chart")
  .append("svg")
  .attr("width", width)
  .attr("height", height)
  .style("font-family", "'Liberation Sans', Arial, sans-serif");

function toPoints(run) {
  const pts = [];
  for (let i = 0; i < run.length; i += 2) pts.push([run[i], run[i + 1]]);
  return pts;
}

panels.forEach(p => {
  const g = svg.append("g");
  const x = d3.scaleLinear().domain([0, 30]).range([p.left, p.left + plotW]);
  const y = d3.scaleLinear().domain([2.3, 3]).range([p.top + plotH, p.top]);
  const right = p.left + plotW, bottom = p.top + plotH;

  // grid
  g.selectAll(".vgrid").data(timeTicks.slice(1, -1)).join("line")
    .attr("x1", d => x(d)).attr("x2", d => x(d))
    .attr("y1", p.top).attr("y2", bottom)
    .attr("stroke", "#e3e3e3").attr("stroke-width", 1);
  g.selectAll(".hgrid").data(coTicks.slice(0, -1)).join("line")
    .attr("x1", p.left).attr("x2", right)
    .attr("y1", d => y(d)).attr("y2", d => y(d))
    .attr("stroke", "#e3e3e3").attr("stroke-width", 1);

  // target
  g.append("line")
    .attr("x1", x(0)).attr("x2", x(30))
    .attr("y1", y(targetCO)).attr("y2", y(targetCO))
    .attr("stroke", "#000").attr("stroke-width", 3)
    .attr("stroke-dasharray", "2.4,1.6");

  const line = d3.line()
    .x(d => x(d[0]))
    .y(d => y(d[1]))
    .curve(d3.curveMonotoneX);

  // runs
  g.selectAll(".run").data(p.runs.map(toPoints)).join("path")
    .attr("d", line)
    .attr("fill", "none")
    .attr("stroke", "#ff0000")
    .attr("stroke-width", 2.6)
    .attr("stroke-linejoin", "round");

  // reference
  g.append("path")
    .attr("d", line(refTimes.map((t, i) => [t, refValues[i]])))
    .attr("fill", "none")
    .attr("stroke", "#0000ff")
    .attr("stroke-width", 4.8)
    .attr("stroke-dasharray", "17,11");

  // box
  g.append("rect")
    .attr("x", p.left).attr("y", p.top)
    .attr("width", plotW).attr("height", plotH)
    .attr("fill", "none").attr("stroke", "#4a4a4a").attr("stroke-width", 1.2);

  // axes
  const xAxis = g.append("g").attr("transform", `translate(0,${bottom})`)
    .call(d3.axisBottom(x).tickValues(timeTicks).tickSize(-5).tickSizeOuter(0).tickPadding(15.5));
  const yAxis = g.append("g").attr("transform", `translate(${p.left},0)`)
    .call(d3.axisLeft(y).tickValues(coTicks).tickFormat((d, i) => coTickLabels[i])
      .tickSize(-5).tickSizeOuter(0).tickPadding(10));
  g.append("g").attr("transform", `translate(0,${p.top})`)
    .call(d3.axisTop(x).tickValues(timeTicks).tickSize(-5).tickSizeOuter(0).tickFormat(""));
  g.append("g").attr("transform", `translate(${right},0)`)
    .call(d3.axisRight(y).tickValues(coTicks).tickSize(-5).tickSizeOuter(0).tickFormat(""));

  g.selectAll(".domain").remove();
  g.selectAll(".tick line").attr("stroke", "#4a4a4a");
  [xAxis, yAxis].forEach(a => a.selectAll("text")
    .attr("font-size", 21.5)
    .attr("font-family", "'Liberation Sans', Arial, sans-serif")
    .attr("fill", "#262626"));

  // title
  g.append("text")
    .attr("x", (p.left + right) / 2)
    .attr("y", p.top - 11)
    .attr("text-anchor", "middle")
    .style("font-family", "'Open Sans', sans-serif")
    .style("font-size", "28px")
    .attr("fill", "#000")
    .text(p.title);

  if (p.yLabel) {
    g.append("text")
      .attr("transform", `translate(40.5,${(p.top + bottom) / 2}) rotate(-90)`)
      .attr("text-anchor", "middle")
      .style("font-size", "29px")
      .attr("fill", "#000")
      .text("CO [lpm]");
  }
  if (p.xLabel) {
    g.append("text")
      .attr("x", (p.left + right) / 2)
      .attr("y", bottom + 62.8)
      .attr("text-anchor", "middle")
      .style("font-size", "29.5px")
      .attr("fill", "#000")
      .text("Time [min]");
  }

  // legend
  const lw = 154, lh = 92;
  const lx = right - 17.3 - lw, ly = bottom - 7 - lh;
  const lg = g.append("g").attr("transform", `translate(${lx},${ly})`);
  lg.append("rect")
    .attr("width", lw).attr("height", lh)
    .attr("fill", "#fff").attr("stroke", "#444").attr("stroke-width", 2);
  const legendStyles = [
    { color: "#000", width: 2.6, dash: "4,2.6" },
    { color: "#0000ff", width: 3.8, dash: "9,5" },
    { color: "#ff0000", width: 2.6, dash: null }
  ];
  legendLabels.forEach((label, i) => {
    const ry = 16.7 + i * 30;
    lg.append("line")
      .attr("x1", 8.3).attr("x2", 61)
      .attr("y1", ry).attr("y2", ry)
      .attr("stroke", legendStyles[i].color)
      .attr("stroke-width", legendStyles[i].width)
      .attr("stroke-dasharray", legendStyles[i].dash);
    lg.append("text")
      .attr("x", 68.3).attr("y", ry)
      .attr("dy", "0.36em")
      .style("font-family", "'Open Sans', sans-serif")
      .style("font-size", "16.5px")
      .attr("fill", "#000")
      .text(label);
  });
});
</script>
</body>
</html>
